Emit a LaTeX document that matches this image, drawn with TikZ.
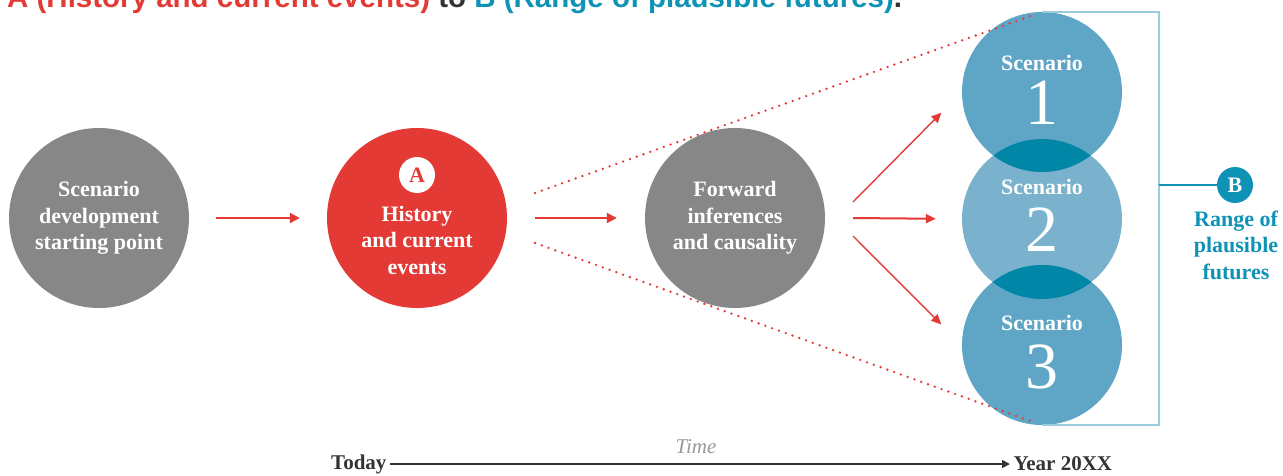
\documentclass[tikz,border=0pt]{standalone}
\usepackage{fontspec}
\setmainfont{Liberation Serif}
\newfontfamily\headfont{Liberation Sans}
\usepackage{tikz}
\usetikzlibrary{arrows.meta}

\definecolor{bubgray}{HTML}{878787}
\definecolor{bubred}{HTML}{E33A35}
\definecolor{scblue}{HTML}{5FA6C6}
\definecolor{scpale}{HTML}{7AB1CC}
\definecolor{scdeep}{HTML}{0087A7}
\definecolor{futteal}{HTML}{0E93B6}
\definecolor{brblue}{HTML}{9ACCE0}
\definecolor{axisdark}{HTML}{333333}

\tikzset{
  bubble/.style={circle,minimum size=180pt,inner sep=0pt,text=white,align=center,
    font=\bfseries\fontsize{22}{26.5}\selectfont},
  scbubble/.style={circle,minimum size=160pt,inner sep=0pt},
  sctitle/.style={text=white,font=\bfseries\fontsize{22}{26}\selectfont},
  scnum/.style={text=white,font=\fontsize{66}{66}\selectfont},
  redarrow/.style={-{Triangle[length=10pt,width=10pt]},bubred,line width=2pt},
  fanarrow/.style={-{Triangle[length=10pt,width=9pt]},bubred,line width=1.4pt},
  reddots/.style={bubred,line width=2.6pt,line cap=round,dash pattern=on 0pt off 7.2pt},
  bracketline/.style={brblue,line width=1.5pt}
}

\begin{document}
\begin{tikzpicture}[x=1pt,y=-1pt]
\useasboundingbox (0,0) rectangle (1283,475);

% Heading, cut off at the top edge
\node[anchor=base west,inner sep=0pt,font=\headfont\bfseries\fontsize{29.5}{32}\selectfont] (heading) at (7,7)
  {\textcolor{bubred}{A (History and current events)} \textcolor{axisdark}{to} \textcolor{futteal}{B (Range of plausible futures)}\textcolor{axisdark}{.}};

% Bracket behind the scenarios
\coordinate (brx) at (1159,185);
\node[circle,fill=futteal,minimum size=36pt,inner sep=0pt,text=white,
  font=\bfseries\fontsize{22}{22}\selectfont] (bmark) at (1235,185) {B};

% Scenario circles
\node[scbubble,fill=scblue] (sc1) at (1042,92) {};
\node[scbubble,fill=scpale] (sc2) at (1042,219) {};
\node[scbubble,fill=scblue] (sc3) at (1042,345) {};
\begin{scope}
\clip (sc2.center) circle (80pt);
\fill[scdeep] (sc1.center) circle (80pt);
\fill[scdeep] (sc3.center) circle (80pt);
\end{scope}
\draw[bracketline] (sc1.north) -- (sc1.north -| brx) -- (sc3.south -| brx) -- (sc3.south);
\draw[futteal,line width=1.4pt] (brx) -- (bmark);

\node[sctitle] (sc1title) at (1042,63) {Scenario};
\node[scnum] (sc1num) at (1042,103) {1};
\node[sctitle] (sc2title) at (1042,187) {Scenario};
\node[scnum] (sc2num) at (1042,230) {2};
\node[sctitle] (sc3title) at (1042,323) {Scenario};
\node[scnum] (sc3num) at (1042,367) {3};

\node[text=futteal,align=center,font=\bfseries\fontsize{22}{26.5}\selectfont] (futtext) at (1236,245)
  {Range of\\plausible\\futures};

% Circles of the chain
\node[bubble,fill=bubgray] (start) at (99,218) {Scenario\\development\\starting point};
\node[bubble,fill=bubred] (hist) at (417,218) {};
\node[circle,fill=white,minimum size=36pt,inner sep=0pt,text=bubred,
  font=\bfseries\fontsize{22}{22}\selectfont] (amark) at (417,175) {A};
\node[text=white,align=center,font=\bfseries\fontsize{22}{26.5}\selectfont] (histtext) at (417,240)
  {History\\and current\\events};
\node[bubble,fill=bubgray] (fwd) at (735,218) {Forward\\inferences\\and causality};

% Arrows
\draw[redarrow,shorten <=27pt,shorten >=27pt] (start) -- (hist);
\draw[redarrow,shorten <=28pt,shorten >=28pt] (hist) -- (fwd);

\coordinate (f1) at (853,202);
\coordinate (f2) at (853,218);
\coordinate (f3) at (853,236);
\draw[fanarrow,shorten >=29pt] (f1) -- (sc1.west);
\draw[fanarrow,line width=2pt,shorten >=26pt] (f2) -- (sc2.west);
\draw[fanarrow,shorten >=29pt] (f3) -- (sc3.west);

% Dotted cone
\coordinate (d1) at (535,193);
\coordinate (d2) at (535,243);
\draw[reddots,shorten >=12pt] (d1) -- (sc1.north);
\draw[reddots,shorten >=12pt] (d2) -- (sc3.south);

% Time axis
\node[anchor=east,text=axisdark,font=\bfseries\fontsize{21}{21}\selectfont] (today) at (390,464) {Today};
\node[anchor=west,text=axisdark,font=\bfseries\fontsize{21}{21}\selectfont] (year) at (1010,464) {Year 20XX};
\draw[axisdark,line width=1.6pt,-{Triangle[length=8pt,width=8pt]}] (today) -- (year);
\node[text=gray!80,font=\itshape\fontsize{21}{21}\selectfont] (timelabel) at (696,447) {Time};
\end{tikzpicture}
\end{document}
